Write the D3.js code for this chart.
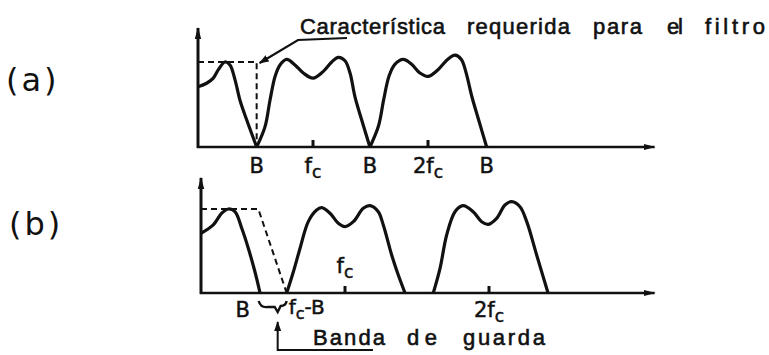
<!DOCTYPE html>
<html>
<head>
<meta charset="utf-8">
<script src="https://cdn.jsdelivr.net/npm/d3@7"></script>
<style>
  html, body { margin: 0; padding: 0; background: #fff; }
  svg { display: block; }
  text { font-family: "DejaVu Sans", sans-serif; fill: #111; }
  .lbl { stroke: #111; stroke-width: 0.5; }
  .note { font-family: "Liberation Sans", Arial, sans-serif; stroke: #111; stroke-width: 0.6; }
</style>
</head>
<body>
<svg id="chart" width="769" height="355"></svg>
<script>
// Spectrum lobes as [frequency (units of fc), relative amplitude]
const lobeA0 = [[0, 0.71], [0.075, 0.75], [0.133, 0.81], [0.177, 0.91], [0.235, 1.0], [0.278, 0.965],
  [0.322, 0.79], [0.365, 0.55], [0.423, 0.32], [0.51, 0]];
const lobeA1 = [[0.51, 0], [0.583, 0.24], [0.626, 0.55], [0.67, 0.83], [0.713, 0.965], [0.771, 1.03],
  [0.843, 0.965], [0.916, 0.87], [1.0, 0.81], [1.09, 0.89], [1.163, 1.0], [1.22, 1.055], [1.278, 1.015],
  [1.322, 0.87], [1.365, 0.59], [1.423, 0.32], [1.495, 0]];
const lobeA2 = [[1.495, 0], [1.57, 0.25], [1.615, 0.56], [1.66, 0.83], [1.71, 0.97], [1.785, 1.03],
  [1.86, 0.97], [1.93, 0.87], [2.0, 0.83], [2.08, 0.9], [2.17, 1.03], [2.235, 1.08], [2.29, 1.03],
  [2.33, 0.88], [2.38, 0.6], [2.44, 0.32], [2.51, 0]];

const lobeB0 = [[0, 0.71], [0.085, 0.81], [0.144, 0.95], [0.19, 1.0], [0.236, 0.968], [0.283, 0.77],
  [0.329, 0.53], [0.375, 0.25], [0.41, 0]];
const lobeB1 = [[0.595, 0], [0.641, 0.25], [0.6875, 0.53], [0.745, 0.85], [0.803, 0.988], [0.838, 1.016],
  [0.896, 0.949], [0.953, 0.83], [1.0, 0.79], [1.058, 0.849], [1.127, 1.008], [1.174, 1.04], [1.231, 0.968],
  [1.266, 0.81], [1.324, 0.452], [1.37, 0.214], [1.417, 0]];
const lobeB2 = [[1.613, 0], [1.66, 0.294], [1.706, 0.69], [1.764, 0.968], [1.82, 1.04], [1.89, 0.968],
  [1.949, 0.849], [1.995, 0.818], [2.053, 0.889], [2.111, 1.048], [2.158, 1.087], [2.215, 1.027],
  [2.262, 0.849], [2.331, 0.452], [2.41, 0]];

// Ideal filter responses (dashed)
const filterA = [[0, 1], [0.51, 1], [0.51, 0]];
const filterB = [[0, 1], [0.398, 1], [0.595, 0]];

// Axis labels: position (fc units), main text, subscript
const labelPosA = [0.51, 1.0, 1.495, 2.0, 2.51];
const labelTextA = ["B", "f", "B", "2f", "B"];
const labelSubA = ["", "c", "", "c", ""];
const tickMarksA = [1.0, 2.0];

const labelPosB = [0.29, 2.0];
const labelTextB = ["B", "2f"];
const labelSubB = ["", "c"];
const tickMarksB = [1.0, 2.0];

// Annotation words: [word, left x, width]
const noteWords = [["Característica", 300, 145], ["requerida", 467, 103], ["para", 593, 49], ["el", 667, 16], ["filtro", 705, 60]];
const guardWords = [["Banda", 313, 72], ["de", 407, 30], ["guarda", 463, 82]];

const svg = d3.select("#chart");

// Arrowhead markers
const defs = svg.append("defs");
defs.append("marker")
  .attr("id", "arrow").attr("viewBox", "0 0 12 8")
  .attr("refX", 11).attr("refY", 4)
  .attr("markerWidth", 12).attr("markerHeight", 8)
  .attr("markerUnits", "userSpaceOnUse")
  .attr("orient", "auto")
  .append("path").attr("d", "M0,0.8 L12,4 L0,7.2 Z").attr("fill", "#111");
defs.append("marker")
  .attr("id", "arrowSmall").attr("viewBox", "0 0 10 8")
  .attr("refX", 9).attr("refY", 4)
  .attr("markerWidth", 10).attr("markerHeight", 8)
  .attr("markerUnits", "userSpaceOnUse")
  .attr("orient", "auto")
  .append("path").attr("d", "M0,0.5 L10,4 L0,7.5 Z").attr("fill", "#111");

function drawPanel(cfg) {
  const x = d3.scaleLinear().domain([0, 1]).range([cfg.x0, cfg.x0 + cfg.unit]);
  const y = d3.scaleLinear().domain([0, 1]).range([cfg.base, cfg.top]);
  const g = svg.append("g");

  // axes
  g.append("line")
    .attr("x1", x(0)).attr("y1", y(0) + 1)
    .attr("x2", x(0)).attr("y2", y(cfg.yMax))
    .attr("stroke", "#111").attr("stroke-width", 3)
    .attr("marker-end", "url(#arrow)");
  g.append("line")
    .attr("x1", x(0) - 1).attr("y1", y(0))
    .attr("x2", x(cfg.xMax)).attr("y2", y(0))
    .attr("stroke", "#111").attr("stroke-width", 2.6)
    .attr("marker-end", "url(#arrow)");

  // ideal filter (dashed)
  const lin = d3.line().x(d => x(d[0])).y(d => y(d[1]));
  g.append("path").attr("d", lin(cfg.filter))
    .attr("fill", "none").attr("stroke", "#111")
    .attr("stroke-width", 2).attr("stroke-dasharray", "6,4");

  // spectrum lobes
  const curve = d3.line().x(d => x(d[0])).y(d => y(d[1])).curve(d3.curveCatmullRom.alpha(0.5));
  cfg.lobes.forEach(l => {
    g.append("path").attr("d", curve(l))
      .attr("fill", "none").attr("stroke", "#111")
      .attr("stroke-width", 3.2).attr("stroke-linejoin", "round");
  });

  // tick marks
  cfg.ticks.forEach(t => {
    g.append("line")
      .attr("x1", x(t)).attr("x2", x(t))
      .attr("y1", y(0)).attr("y2", y(0) - 7)
      .attr("stroke", "#111").attr("stroke-width", 3);
  });

  // labels under the axis
  cfg.labelPos.forEach((p, i) => {
    const t = g.append("text").attr("class", "lbl")
      .attr("x", x(p)).attr("y", y(0) + cfg.labelDy)
      .attr("text-anchor", "middle")
      .attr("font-size", 21);
    t.append("tspan").text(cfg.labelText[i]);
    if (cfg.labelSub[i]) {
      t.append("tspan").attr("dy", 5).attr("font-size", 17).text(cfg.labelSub[i]);
    }
  });
  return { x, y, g };
}

const pa = drawPanel({
  x0: 198, unit: 115, base: 147, top: 62, yMax: 1.4, xMax: 3.97,
  lobes: [lobeA0, lobeA1, lobeA2], filter: filterA,
  ticks: tickMarksA, labelPos: labelPosA, labelText: labelTextA, labelSub: labelSubA,
  labelDy: 26
});

const pb = drawPanel({
  x0: 201, unit: 144, base: 293, top: 209, yMax: 1.37, xMax: 3.15,
  lobes: [lobeB0, lobeB1, lobeB2], filter: filterB,
  ticks: tickMarksB, labelPos: labelPosB, labelText: labelTextB, labelSub: labelSubB,
  labelDy: 24
});

// panel tags
svg.append("text").attr("x", 6).attr("y", 91).attr("font-size", 32).attr("letter-spacing", 3).text("(a)");
svg.append("text").attr("x", 9).attr("y", 235).attr("font-size", 32).attr("letter-spacing", 3).text("(b)");

// annotation for the required filter characteristic
noteWords.forEach(([w, x0, wd]) => {
  svg.append("text").attr("class", "note")
    .attr("x", x0).attr("y", 34).attr("font-size", 22)
    .attr("textLength", wd).attr("lengthAdjust", "spacing")
    .text(w);
});
svg.append("path")
  .attr("d", d3.line()([[347, 38], [298, 40], [pa.x(0.51) + 3, pa.y(1) + 1]]))
  .attr("fill", "none").attr("stroke", "#111").attr("stroke-width", 2.2)
  .attr("marker-end", "url(#arrowSmall)");

// fc marker above the axis in panel (b)
const fcB = pb.g.append("text").attr("class", "lbl")
  .attr("x", pb.x(1.0)).attr("y", pb.y(0) - 20)
  .attr("text-anchor", "middle").attr("font-size", 21);
fcB.append("tspan").text("f");
fcB.append("tspan").attr("dy", 5).attr("font-size", 17).text("c");

// guard band brace between B and fc-B
const bx0 = pb.x(filterB[2][0]) - 28, bx1 = pb.x(filterB[2][0]);
const by = pb.y(0) + 8;
svg.append("path")
  .attr("d", `M${bx0},${by} Q${bx0 + 2},${by + 7} ${bx0 + 9},${by + 6} L${bx0 + 16},${by + 6} L${bx0 + 19},${by + 11} L${bx0 + 22},${by + 5} Q${bx1 - 1},${by + 5} ${bx1},${by}`)
  .attr("fill", "none").attr("stroke", "#111").attr("stroke-width", 2.4);

const fcmB = svg.append("text").attr("class", "lbl")
  .attr("x", bx1 + 2).attr("y", by + 13).attr("font-size", 20);
fcmB.append("tspan").text("f");
fcmB.append("tspan").attr("dy", 5).attr("font-size", 16).text("c");
fcmB.append("tspan").attr("dy", -5).text("-B");

// guard band callout
svg.append("path")
  .attr("d", d3.line()([[373, 350], [bx0 + 19, 350], [bx0 + 19, 322]]))
  .attr("fill", "none").attr("stroke", "#111").attr("stroke-width", 2)
  .attr("marker-end", "url(#arrowSmall)");
guardWords.forEach(([w, x0, wd]) => {
  svg.append("text").attr("class", "note")
    .attr("x", x0).attr("y", 345).attr("font-size", 22)
    .attr("textLength", wd).attr("lengthAdjust", "spacing")
    .text(w);
});
</script>
</body>
</html>
